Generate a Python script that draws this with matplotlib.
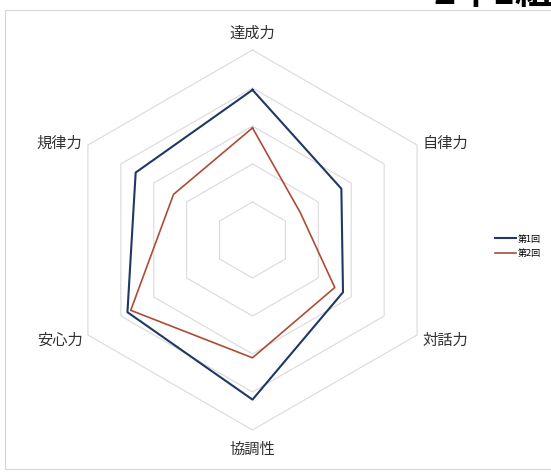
import numpy as np
import matplotlib.pyplot as plt
from matplotlib.lines import Line2D

plt.rcParams['font.family'] = ['Noto Sans CJK JP', 'DejaVu Sans']

categories = ['達成力', '自律力', '対話力', '協調性', '安心力', '規律力']
round1 = [3.95, 2.7, 2.75, 4.2, 3.8, 3.55]
round2 = [2.95, 1.45, 2.5, 3.1, 3.7, 2.4]
series_names = ['第1回', '第2回']
rings = [1, 2, 3, 4, 5]
title = '2年1組'

n = len(categories)
# clockwise from the top
angles = np.pi / 2 - 2 * np.pi * np.arange(n) / n


def to_xy(vals):
    vals = np.asarray(vals, dtype=float)
    x = vals * np.cos(angles)
    y = vals * np.sin(angles)
    return np.append(x, x[0]), np.append(y, y[0])


fig = plt.figure(figsize=(5.51, 4.72), dpi=100)
ax = fig.add_axes([52.5 / 551, 32 / 472, 400 / 551, 400 / 472])
ax.set_xlim(-400 / 76, 400 / 76)
ax.set_ylim(-400 / 76, 400 / 76)
ax.set_aspect('equal')
ax.axis('off')

# hexagonal grid
for r in rings:
    gx, gy = to_xy([r] * n)
    ax.plot(gx, gy, color='#dadada', lw=0.8, zorder=1)

x1, y1 = to_xy(round1)
x2, y2 = to_xy(round2)
ax.plot(x1, y1, color='#1f3864', lw=1.5, label=series_names[0], zorder=3)
ax.plot(x2, y2, color='#ac4c36', lw=1.2, label=series_names[1], zorder=2)

# category labels around the outer ring
rmax = rings[-1]
for name, a in zip(categories, angles):
    vx, vy = rmax * np.cos(a), rmax * np.sin(a)
    c, s = np.cos(a), np.sin(a)
    if abs(c) < 1e-6:
        ha = 'center'
        va = 'bottom' if s > 0 else 'top'
        off = (0, 6) if s > 0 else (0, -8)
    else:
        ha = 'left' if c > 0 else 'right'
        va = 'center'
        off = (4 if c > 0 else -4, 1 if s > 0 else -4)
    ax.annotate(name, (vx, vy), xytext=off, textcoords='offset points',
                ha=ha, va=va, fontsize=11, color='#303030')

fig.legend(loc='upper left', bbox_to_anchor=(490 / 551, 1 - 230 / 472),
           frameon=False, fontsize=6.5, handlelength=2.4, handletextpad=0.2,
           labelspacing=0.6, borderpad=0)

# frame of the chart area
for xs, ys in [([5, 551], [10, 10]), ([5, 5], [10, 469]), ([5, 551], [469, 469])]:
    fig.add_artist(Line2D([x / 551 for x in xs], [1 - y / 472 for y in ys],
                          color='#d4d4d4', lw=0.8))

fig.text(434 / 551, 1 - 4 / 472, title, fontsize=27, fontweight='bold',
         ha='left', va='baseline', color='black')

fig.savefig('out.png', dpi=100, facecolor='white')
